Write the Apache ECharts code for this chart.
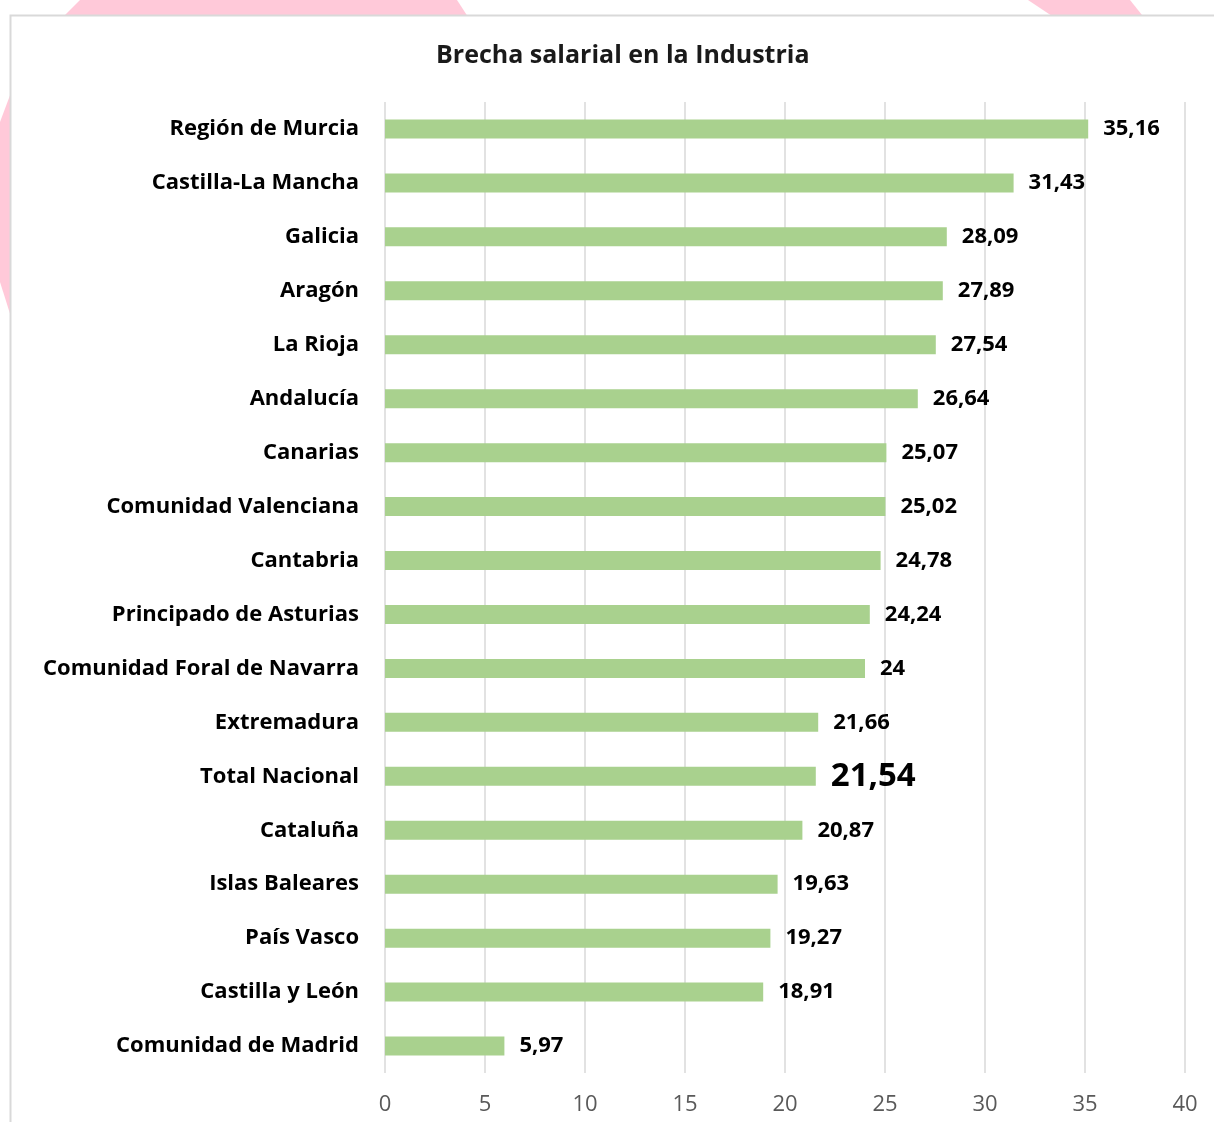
<!DOCTYPE html>
<head>
    <meta charset="utf-8">
    <script src="https://cdn.jsdelivr.net/npm/echarts@6/dist/echarts.min.js"></script>
    <title>Brecha salarial en la Industria</title>
    <style>
        html, body { margin: 0; padding: 0; background: #fff; }
        #main { width: 1214px; height: 1122px; }
    </style>
</head>
<body>
    <div id="main"></div>
    <script type="text/javascript">
        // regiones, de arriba a abajo
        var regiones = [
            'Región de Murcia', 'Castilla-La Mancha', 'Galicia', 'Aragón', 'La Rioja',
            'Andalucía', 'Canarias', 'Comunidad Valenciana', 'Cantabria',
            'Principado de Asturias', 'Comunidad Foral de Navarra', 'Extremadura',
            'Total Nacional', 'Cataluña', 'Islas Baleares', 'País Vasco',
            'Castilla y León', 'Comunidad de Madrid'
        ];
        var brecha = [
            35.16, 31.43, 28.09, 27.89, 27.54, 26.64, 25.07, 25.02, 24.78,
            24.24, 24, 21.66, 21.54, 20.87, 19.63, 19.27, 18.91, 5.97
        ];
        var ejeX = [0, 5, 10, 15, 20, 25, 30, 35, 40];

        var fuente = 'Open Sans';
        var myChart = echarts.init(document.getElementById('main'));

        var datos = brecha.map(function (v, i) {
            var d = { value: v };
            if (regiones[i] === 'Total Nacional') {
                d.label = { fontSize: 33 };
            }
            return d;
        });

        var option = {
            animation: false,
            backgroundColor: '#fff',
            title: {
                text: 'Brecha salarial en la Industria',
                left: 431,
                top: 38,
                textStyle: { fontFamily: fuente, fontSize: 25, fontWeight: 'bold', color: '#1a1a1a' }
            },
            // fondo: manchas rosas y marco gris
            graphic: [
                { type: 'polygon', z: -20, shape: { points: [[80, 0], [457, 0], [470, 20], [60, 20]] }, style: { fill: '#ffc9d9' } },
                { type: 'polygon', z: -20, shape: { points: [[1028, 0], [1130, 0], [1146, 20], [1058, 20]] }, style: { fill: '#ffc9d9' } },
                { type: 'polygon', z: -20, shape: { points: [[12, 90], [0, 122], [0, 282], [12, 320]] }, style: { fill: '#ffc9d9' } },
                { type: 'rect', z: -10, shape: { x: 10.5, y: 15.5, width: 1300, height: 1200 }, style: { fill: '#fff', stroke: '#d9d9d9', lineWidth: 2 } }
            ],
            grid: { left: 385, right: 29, top: 102, height: 971 },
            xAxis: {
                type: 'value',
                min: ejeX[0],
                max: ejeX[ejeX.length - 1],
                interval: 5,
                axisLine: { show: false },
                axisTick: { show: false },
                splitLine: { lineStyle: { color: '#d9d9d9', width: 1.5 } },
                axisLabel: { margin: 21, fontFamily: fuente, fontSize: 22, color: '#595959' }
            },
            yAxis: {
                type: 'category',
                inverse: true,
                data: regiones,
                axisLine: { show: false },
                axisTick: { show: false },
                axisLabel: {
                    margin: 26, fontFamily: fuente, fontSize: 22, fontWeight: 'bold', color: '#000',
                    padding: [3, 0, 0, 0]
                }
            },
            series: [{
                type: 'bar',
                data: datos,
                barWidth: 19,
                itemStyle: { color: '#a9d18e' },
                label: {
                    show: true,
                    position: 'right',
                    distance: 15,
                    padding: [4, 0, 0, 0],
                    fontFamily: fuente,
                    fontSize: 22,
                    fontWeight: 'bold',
                    color: '#000',
                    formatter: function (p) { return String(p.value).replace('.', ','); }
                }
            }]
        };

        myChart.setOption(option);
    </script>
</body>
